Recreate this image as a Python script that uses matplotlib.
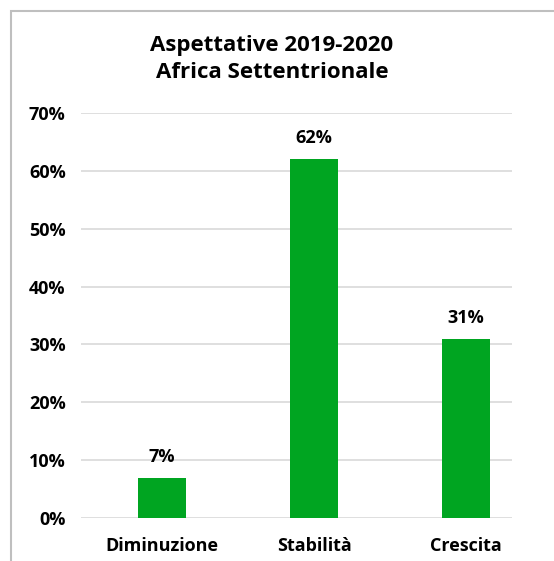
import matplotlib.pyplot as plt
from matplotlib.patches import Rectangle
import numpy as np

# expectations for North Africa, share of respondents
categories = ["Diminuzione", "Stabilità", "Crescita"]
shares = [7, 62, 31]
yticks = [0, 10, 20, 30, 40, 50, 60, 70]

W, H = 554, 561
fig = plt.figure(figsize=(W / 100, H / 100), dpi=100)
plt.rcParams['font.family'] = ['Open Sans', 'DejaVu Sans']

# plot area in pixels: left 81, right 512, bottom (0%) 518, top (70%) 113
ax = fig.add_axes([81 / W, 1 - 518 / H, (512 - 81) / W, (518 - 113) / H])

x = np.arange(len(categories))
ax.bar(x, shares, width=0.316, color='#00A521', zorder=3)

for xi, v in zip(x, shares):
    ax.annotate("{}%".format(v), (xi, v), xytext=(0, 15), textcoords='offset points',
                ha='center', va='center', fontsize=13, fontweight='bold')

ax.set_xlim(-81 / 152, (512 - 162) / 152)
ax.set_ylim(0, 70)
ax.set_yticks(yticks)
ax.set_yticklabels(["{}%".format(t) for t in yticks], fontsize=13, fontweight='bold')
ax.set_xticks(x)
ax.set_xticklabels(categories, fontsize=13, fontweight='bold')
ax.tick_params(length=0)
ax.tick_params(axis='y', pad=11)
ax.tick_params(axis='x', pad=14)
ax.grid(axis='y', color='#D9D9D9', linewidth=1.2, zorder=0)
for s in ax.spines.values():
    s.set_visible(False)

fig.text(272 / W, 1 - 59 / H, "Aspettative 2019-2020\nAfrica Settentrionale",
         ha='center', va='center', fontsize=16, fontweight='bold', linespacing=1.35)

# chart border, runs off the right and bottom edges
fig.patches.append(Rectangle((11 / W, -0.1), 1.2, 1.1 - 11 / H, transform=fig.transFigure,
                             fill=False, edgecolor='#BFBFBF', linewidth=1.5))

fig.savefig("out.png", dpi=100)
